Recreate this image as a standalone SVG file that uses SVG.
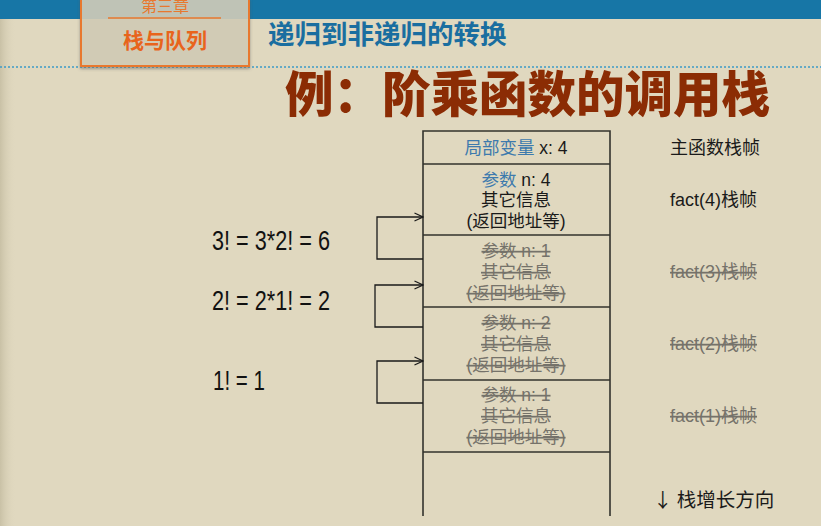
<svg xmlns="http://www.w3.org/2000/svg" width="821" height="526" viewBox="0 0 821 526">
<defs>
<linearGradient id="edge" x1="0" y1="0" x2="1" y2="0">
<stop offset="0" stop-color="#c9c1a6"/>
<stop offset="1" stop-color="#e0d8bf" stop-opacity="0"/>
</linearGradient>
<marker id="arr" viewBox="0 0 10 10" refX="9.5" refY="5" markerWidth="10" markerHeight="10" markerUnits="userSpaceOnUse" orient="auto">
<path d="M1,1 L9.5,5 L1,9" fill="none" stroke="#1a1a1a" stroke-width="1.2"/>
</marker>
<filter id="sh" x="-10%" y="-10%" width="120%" height="130%">
<feDropShadow dx="0" dy="2" stdDeviation="1.5" flood-color="#555" flood-opacity="0.5"/>
</filter>
</defs>
<style>
.cjk{font-family:"Noto Sans CJK SC",sans-serif}
.t{font-family:"Liberation Sans","Noto Sans CJK SC",sans-serif;font-size:17.5px;fill:#1a1a1a;text-anchor:middle}
.lab{font-family:"Liberation Sans","Noto Sans CJK SC",sans-serif;font-size:18px;fill:#1a1a1a}
.g{fill:#75726a;text-decoration:line-through}
.bl{fill:#3d7aad}
.eq{font-family:"Liberation Sans",sans-serif;font-size:27px;fill:#111}
.frame{stroke:#33332d;stroke-width:1.6;fill:none}
.conn{stroke:#1a1a1a;stroke-width:1.3;fill:none}
</style>
<rect width="821" height="526" fill="#e0d8bf"/>
<rect width="16" height="526" fill="url(#edge)"/>
<rect width="821" height="19" fill="#1776a6"/>
<line x1="0" y1="67" x2="821" y2="67" stroke="#3c9ac8" stroke-width="1.5" stroke-dasharray="2,2"/>
<g id="tab">
<rect x="81" y="-2" width="168" height="68" fill="#d6d0b8" fill-opacity="0.85" stroke="#e8782e" stroke-width="2" filter="url(#sh)"/>
<rect x="82" y="0" width="166" height="19" fill="#bfc3b6"/>
<line x1="108" y1="18" x2="221" y2="18" stroke="#e8782e" stroke-width="1.5"/>
<text x="165" y="12" class="cjk" font-size="16" fill="#e8782e" text-anchor="middle">第三章</text>
<text x="165" y="48" class="cjk" font-size="21" font-weight="bold" fill="#e8641c" text-anchor="middle">栈与队列</text>
</g>
<text id="subtitle" x="268" y="44" class="cjk" font-size="26.5" font-weight="bold" fill="#1a6ea0">递归到非递归的转换</text>
<text id="title" x="285" y="112" class="cjk" font-size="48.5" font-weight="900" fill="#8b2c04">例：阶乘函数的调用栈</text>

<g id="stack">
<path class="frame" d="M423,516 V131 H610 V516"/>
<line class="frame" x1="423" y1="164" x2="610" y2="164"/>
<line class="frame" x1="423" y1="235" x2="610" y2="235"/>
<line class="frame" x1="423" y1="307" x2="610" y2="307"/>
<line class="frame" x1="423" y1="380" x2="610" y2="380"/>
<line class="frame" x1="423" y1="452" x2="610" y2="452"/>
</g>
<g id="main-frame">
<text class="t" x="516" y="154"><tspan class="bl">局部变量</tspan> x: 4</text>
<text class="lab" x="670" y="154">主函数栈帧</text>
</g>
<g id="fact4">
<text class="t" x="516" y="186"><tspan class="bl">参数</tspan> n: 4</text>
<text class="t" x="516" y="206">其它信息</text>
<text class="t" x="516" y="227">(返回地址等)</text>
<text class="lab" x="670" y="206">fact(4)栈帧</text>
</g>
<g id="fact3">
<text class="t g" x="516" y="257">参数 n: 1</text>
<text class="t g" x="516" y="278">其它信息</text>
<text class="t g" x="516" y="299">(返回地址等)</text>
<text class="lab g" x="670" y="278">fact(3)栈帧</text>
</g>
<g id="fact2">
<text class="t g" x="516" y="329">参数 n: 2</text>
<text class="t g" x="516" y="350">其它信息</text>
<text class="t g" x="516" y="371">(返回地址等)</text>
<text class="lab g" x="670" y="350">fact(2)栈帧</text>
</g>
<g id="fact1">
<text class="t g" x="516" y="401">参数 n: 1</text>
<text class="t g" x="516" y="422">其它信息</text>
<text class="t g" x="516" y="443">(返回地址等)</text>
<text class="lab g" x="670" y="422">fact(1)栈帧</text>
</g>
<text id="growth" x="653" y="507" font-family="'Noto Sans CJK SC',sans-serif" font-size="19.5" fill="#1a1a1a">↓ 栈增长方向</text>

<g id="eq3"><text class="eq" x="212" y="250" textLength="118" lengthAdjust="spacingAndGlyphs">3! = 3*2! = 6</text></g>
<g id="eq2"><text class="eq" x="212" y="310" textLength="118" lengthAdjust="spacingAndGlyphs">2! = 2*1! = 2</text></g>
<g id="eq1"><text class="eq" x="213" y="390" textLength="52" lengthAdjust="spacingAndGlyphs">1! = 1</text></g>

<g id="connectors">
<path class="conn" d="M423,259 H377 V217 H423" marker-end="url(#arr)"/>
<path class="conn" d="M423,327 H375 V285 H423" marker-end="url(#arr)"/>
<path class="conn" d="M423,403 H377 V361 H423" marker-end="url(#arr)"/>
</g>
</svg>
